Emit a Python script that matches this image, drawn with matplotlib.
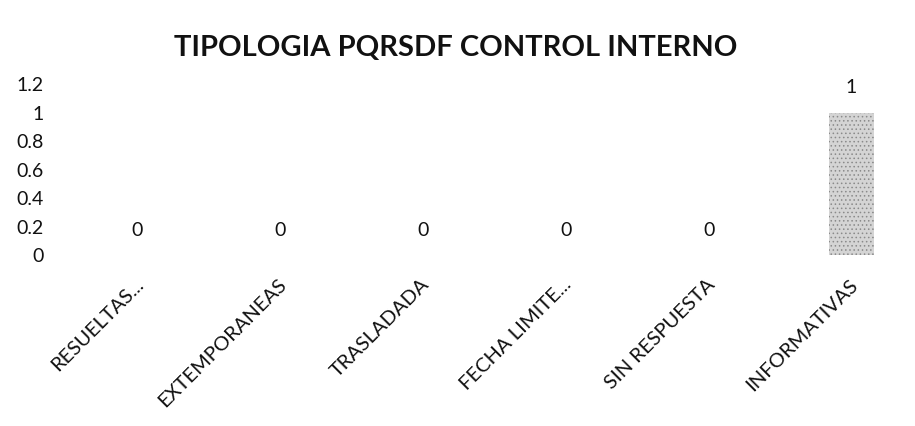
import numpy as np
import matplotlib
matplotlib.use('Agg')
import matplotlib.pyplot as plt
from matplotlib.transforms import ScaledTranslation

#Chart data
categorias = ['RESUELTAS...', 'EXTEMPORANEAS', 'TRASLADADA', 'FECHA LIMITE...', 'SIN RESPUESTA', 'INFORMATIVAS']
valores = [0, 0, 0, 0, 0, 1]
y_ticks = [0, 0.2, 0.4, 0.6, 0.8, 1, 1.2]
y_tick_labels = ['0', '0.2', '0.4', '0.6', '0.8', '1', '1.2']
titulo = 'TIPOLOGIA PQRSDF CONTROL INTERNO'

plt.rcParams['font.family'] = ['Lato', 'DejaVu Sans']
plt.rcParams['hatch.color'] = '#8a8a8a'
plt.rcParams['hatch.linewidth'] = 0.6

fig = plt.figure(figsize=(9.15, 4.26), dpi=100)
ax = fig.add_axes([0.0721, 0.401, 0.9279, 0.401])

x = np.arange(len(categorias))
bars = ax.bar(x, valores, width=0.31, color='#d4d4d4', hatch='....', linewidth=0)

#Data labels above each bar
for xi, v in zip(x, valores):
    ax.annotate(str(v), (xi, v), xytext=(0, 25), textcoords='offset pixels',
                ha='center', va='center', fontsize=14, color='#111111')

ax.set_xlim(-0.5, 5.445)
ax.set_ylim(0, 1.2)
ax.set_yticks(y_ticks)
ax.set_yticklabels(y_tick_labels, fontsize=14, color='#111111')
ax.set_xticks(x)
ax.set_xticklabels(categorias, rotation=45, ha='right', rotation_mode='anchor',
                   fontsize=14.5, color='#111111')
ax.tick_params(axis='both', length=0)
ax.tick_params(axis='x', pad=15)
ax.tick_params(axis='y', pad=16)

offset = ScaledTranslation(-3 / 100, 0, fig.dpi_scale_trans)
for lbl in ax.get_xticklabels():
    lbl.set_transform(lbl.get_transform() + offset)

for s in ax.spines.values():
    s.set_visible(False)

fig.text(0.498, 0.887, titulo, ha='center', va='center', fontsize=21,
         fontweight='bold', color='#111111')

plt.savefig('out.png', dpi=100)
